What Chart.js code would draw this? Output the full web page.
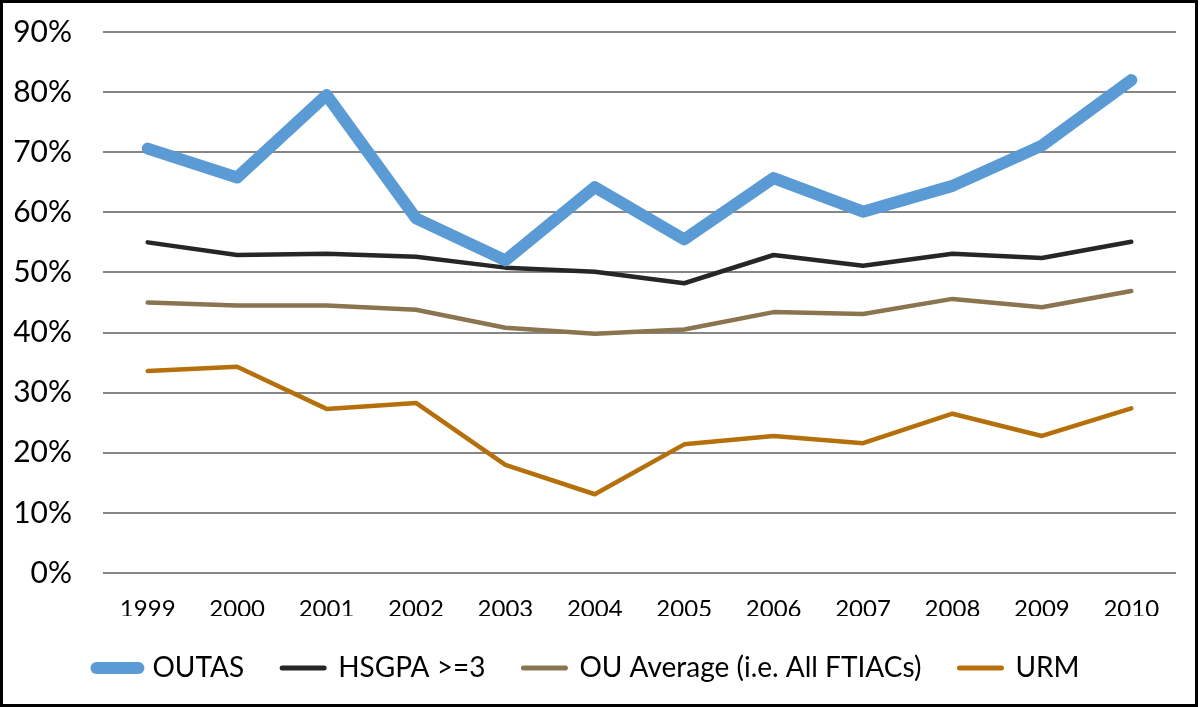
<!DOCTYPE html>
<html>
<head>
<meta charset="utf-8">
<script src="https://cdn.jsdelivr.net/npm/chart.js@4"></script>
<style>
html,body{margin:0;padding:0;background:#fff;}
#wrap{width:1200px;height:707px;position:relative;}
</style>
</head>
<body>
<div id="wrap"><canvas id="c" width="1200" height="707"></canvas></div>
<script>
const years = ['1999','2000','2001','2002','2003','2004','2005','2006','2007','2008','2009','2010'];
const outas = [70.6, 65.8, 79.5, 59.0, 52.0, 64.2, 55.5, 65.7, 60.1, 64.4, 71.1, 82.0];
const hsgpa = [55.0, 52.9, 53.1, 52.6, 50.8, 50.1, 48.2, 52.9, 51.1, 53.1, 52.4, 55.1];
const ouAvg = [45.0, 44.5, 44.5, 43.8, 40.8, 39.8, 40.5, 43.4, 43.1, 45.6, 44.2, 46.9];
const urm   = [33.6, 34.3, 27.3, 28.3, 18.0, 13.1, 21.4, 22.8, 21.6, 26.5, 22.8, 27.4];
const yTicks = [0,10,20,30,40,50,60,70,80,90];

const FONT = 'Lato, "Open Sans", sans-serif';

const borderPlugin = {
  id: 'frame',
  afterDraw(chart){
    const ctx = chart.ctx;
    ctx.save();
    ctx.strokeStyle = '#000';
    ctx.lineWidth = 3;
    ctx.strokeRect(1.5, 1.5, chart.width - 5, chart.height - 3);
    ctx.restore();
  }
};

const widths = [12, 5, 5, 5];

new Chart(document.getElementById('c'), {
  type: 'line',
  data: {
    labels: years,
    datasets: [
      {label: 'OUTAS', data: outas, borderColor: '#5B9BD5', backgroundColor: '#5B9BD5', borderWidth: 12},
      {label: 'HSGPA >=3', data: hsgpa, borderColor: '#262626', backgroundColor: '#262626', borderWidth: 4.5},
      {label: 'OU Average (i.e. All FTIACs)', data: ouAvg, borderColor: '#8B7450', backgroundColor: '#8B7450', borderWidth: 4.5},
      {label: 'URM', data: urm, borderColor: '#B5700B', backgroundColor: '#B5700B', borderWidth: 4.5}
    ]
  },
  options: {
    responsive: false,
    animation: false,
    devicePixelRatio: 1,
    elements: {
      point: {radius: 0, hoverRadius: 0},
      line: {tension: 0, borderJoinStyle: 'round', borderCapStyle: 'round'}
    },
    layout: {padding: {left: 0, right: 24, top: 32, bottom: 15}},
    scales: {
      x: {
        offset: true,
        grid: {display: false, drawTicks: false},
        border: {display: false},
        ticks: {color: '#000', font: {family: FONT, size: 24}, padding: 22, maxRotation: 0},
        afterFit(s){ s.height = 43; s.paddingLeft = 0; s.paddingRight = 0; }
      },
      y: {
        min: 0, max: 90,
        afterBuildTicks(s){ s.ticks = yTicks.map(v => ({value: v})); },
        grid: {color: '#868686', lineWidth: 2, drawTicks: false},
        border: {display: false},
        ticks: {color: '#000', font: {family: FONT, size: 30}, padding: 31, callback: v => v + '%'},
        afterFit(s){ s.width = 103; s.paddingTop = 0; s.paddingBottom = 0; }
      }
    },
    plugins: {
      tooltip: {enabled: false},
      legend: {
        position: 'bottom',
        labels: {
          color: '#000',
          font: {family: FONT, size: 28},
          usePointStyle: true,
          pointStyleWidth: 42,
          boxHeight: 12,
          padding: 38,
          generateLabels(chart){
            return chart.data.datasets.map((d, i) => ({
              text: d.label,
              fillStyle: d.borderColor,
              strokeStyle: d.borderColor,
              lineWidth: widths[i],
              lineCap: 'round',
              pointStyle: 'line',
              datasetIndex: i,
              hidden: false,
              fontColor: '#000'
            }));
          }
        }
      }
    }
  },
  plugins: [borderPlugin]
});
</script>
</body>
</html>
